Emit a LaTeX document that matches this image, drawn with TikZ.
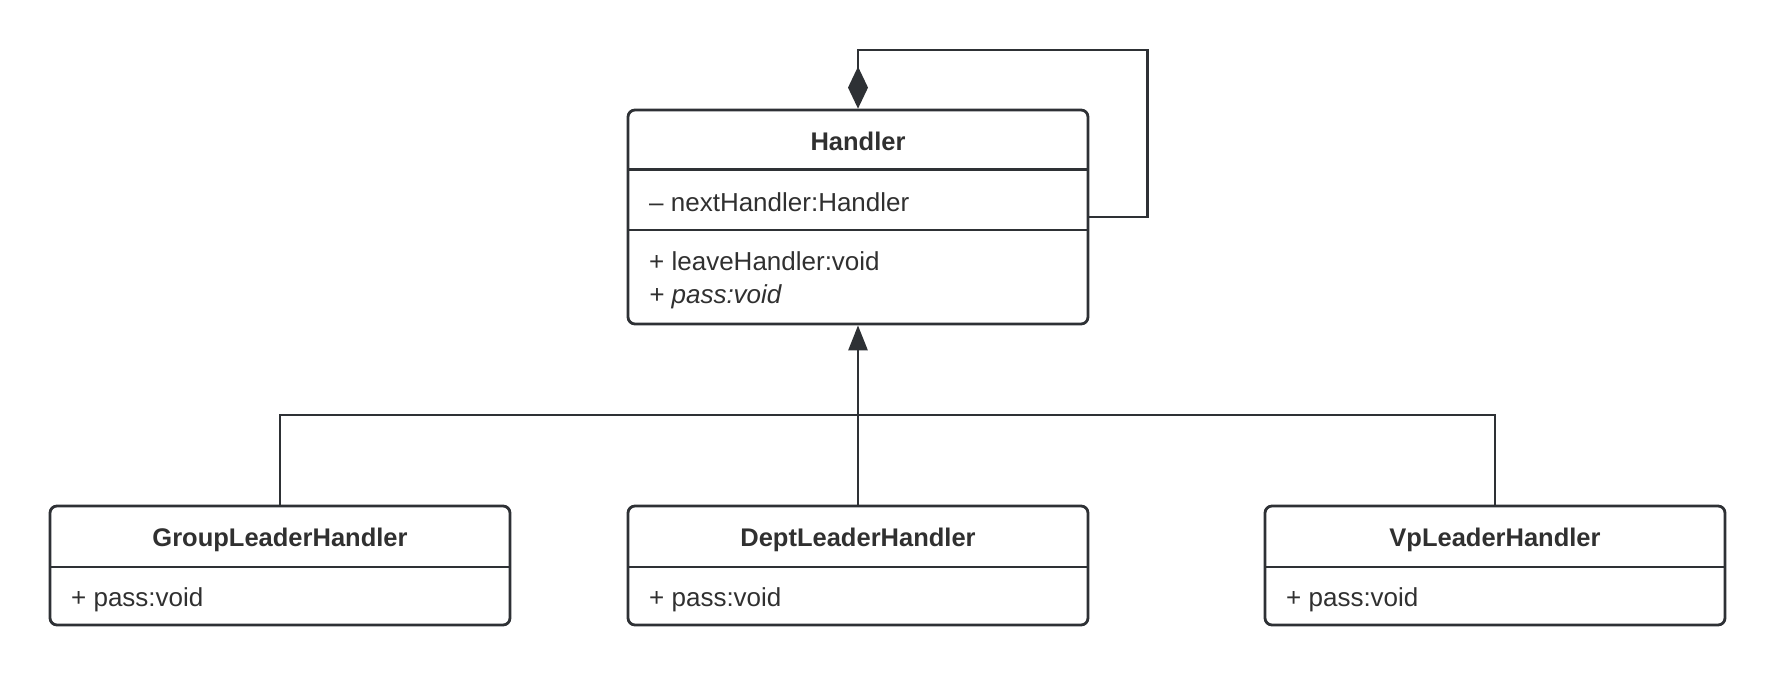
\documentclass[tikz,border=0pt]{standalone}
\usepackage{fontspec}
\setmainfont{Liberation Sans}
\usetikzlibrary{arrows.meta,positioning}
\definecolor{umlline}{HTML}{2E3135}
\definecolor{umltext}{HTML}{303030}
\tikzset{
  umlbox/.style={draw=umlline, line width=2.8pt, rounded corners=7pt, minimum width=460pt, inner sep=0pt},
  divider/.style={draw=umlline, line width=2.8pt},
  title/.style={font=\bfseries\fontsize{25.5}{30}\selectfont, text=umltext, anchor=base, inner sep=0pt},
  member/.style={font=\fontsize{26}{34}\selectfont, text=umltext, anchor=base west, inner sep=0pt, align=left},
  link/.style={draw=umlline, line width=2.8pt},
}
\begin{document}
\begin{tikzpicture}[x=1pt, y=-1pt]
      \useasboundingbox (0,0) rectangle (1776,676);
      % Handler
      \node[umlbox, minimum height=214pt] (handler) at (858,217) {};
      \draw[divider] (628,169.5) -- (1088,169.5);
      \draw[divider] (628,230) -- (1088,230);
      \node[title] (handlername) at (858,150.7) {Handler};
      \node[member] (handlerattr) at (649,211.7) {– nextHandler:Handler};
      \node[member] (handlerop1) at (649,270.7) {+ leaveHandler:void};
      \node[member] (handlerop2) at (649,303.5) {\itshape + pass:void};
      % subclasses
      \node[umlbox, minimum height=119pt] (group) at (280,565.5) {};
      \node[umlbox, minimum height=119pt] (dept) at (858,565.5) {};
      \node[umlbox, minimum height=119pt] (vp) at (1495,565.5) {};
      \draw[divider] (50,567) -- (510,567);
      \draw[divider] (628,567) -- (1088,567);
      \draw[divider] (1265,567) -- (1725,567);
      \node[title] (groupname) at (280,546) {GroupLeaderHandler};
      \node[title] (deptname) at (858,546) {DeptLeaderHandler};
      \node[title] (vpname) at (1495,546) {VpLeaderHandler};
      \node[member] (groupop) at (71,606.7) {+ pass:void};
      \node[member] (deptop) at (649,606.7) {+ pass:void};
      \node[member] (vpop) at (1286,606.7) {+ pass:void};
      % connectors
      \coordinate (loop) at (1147.5,50);
      \coordinate (bus) at (858,415);
      \draw[link, -{Diamond[length=42pt,width=20pt]}] (handler.east) -| (loop) -| (handler.north);
      \draw[link] (group.north) |- (bus) -| (vp.north);
      \draw[link, -{Triangle[length=25pt,width=19pt]}] (dept.north) -- (handler.south);
\end{tikzpicture}
\end{document}
